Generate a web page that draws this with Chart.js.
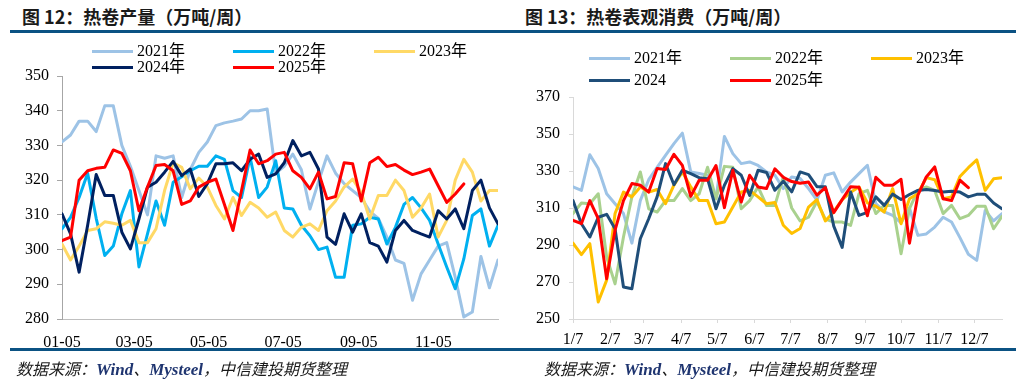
<!DOCTYPE html>
<html><head><meta charset="utf-8">
<script src="https://cdn.jsdelivr.net/npm/chart.js@4.4.0/dist/chart.umd.min.js"></script>
<style>
html,body{margin:0;padding:0;background:#fff;}
#wrap{position:relative;width:1024px;height:380px;overflow:hidden;background:#fff;}
.title{position:absolute;top:3px;font:bold 18px "Noto Sans CJK SC",sans-serif;color:#1a1a1a;white-space:nowrap;line-height:26px;}
.bar{position:absolute;background:#0b5283;}
.foot{position:absolute;top:357px;font:italic 16px "Noto Sans CJK SC",sans-serif;color:#1a1a1a;white-space:nowrap;line-height:22px;}
.foot b{font-family:"Liberation Serif",serif;font-size:17px;font-weight:bold;color:#1f3570;}
canvas{position:absolute;top:0;}
.lg{position:absolute;height:18px;font:16px "Liberation Serif","Noto Sans CJK SC",serif;color:#000;white-space:nowrap;line-height:18px;}
.lg i{position:absolute;left:0;top:8px;width:41px;height:3px;}
.lg span{position:absolute;left:45px;top:0;}
</style>
</head><body>
<div id="wrap">
  <div class="title" style="left:22px;">图 12：热卷产量（万吨/周）</div>
  <div class="title" style="left:525px;">图 13：热卷表观消费（万吨/周）</div>
  <div class="bar" style="left:10px;top:30px;width:1006px;height:3px;"></div>
  <div class="bar" style="left:10px;top:348px;width:1006px;height:3px;"></div>
  <canvas id="c1" width="512" height="380" style="left:0;width:512px;height:380px;"></canvas>
  <canvas id="c2" width="512" height="380" style="left:512px;width:512px;height:380px;"></canvas>
  <div class="foot" style="left:16px;">数据来源：<b>Wind</b>、<b>Mysteel</b>，中信建投期货整理</div>
  <div class="foot" style="left:544px;">数据来源：<b>Wind</b>、<b>Mysteel</b>，中信建投期货整理</div>
</div>
<script>
// ---------- Figure 12: HRC weekly output (10k t/week) ----------
const prodLabels = ['2021年','2022年','2023年','2024年','2025年'];
const prodColors = ['#9DC3E6','#00B0F0','#FFD966','#002060','#FF0000'];
const prodTickLabels = ['01-05','03-05','05-05','07-05','09-05','11-05'];
const prodStart = '01-05';
const prod2021 = [331,333,337,337,334,341.4,341.4,330,324,317,310,327,326.3,327,315,323,328,331,335.7,336.5,337,337.6,340,340,340.5,322,324,327.5,323,311.7,319.5,327,322,319,317,315,311,309,303.6,297,296,285.4,293,297,301,302,292,280.6,282,298,289,297];
const prod2022 = [306,309.3,315,322,309,298.3,301,310.3,317,295,304.5,314,307,319.4,321,322.7,324,324,327,326,317,315,326.6,315,318,325.6,312,311.7,307,304,300,300.7,292,292,307,307.4,309.3,308.8,301.6,306.4,313,315,312,308.4,301.6,295,288.7,297.3,309.8,311.7,301,307];
const prod2023 = [301.6,297,301,305.5,306,308,307.6,307,308.4,302,302,306,317,325,323.7,317.5,320.6,318,312.7,308.8,315,309.8,313.6,312,309.3,310.8,305.5,303.6,306.4,307.4,305.5,311.2,314,318,320.3,316.5,308.8,315.6,315.6,320,317,309.3,312,316,303.6,308.4,320,326,322.3,314,317,317];
const prod2024 = [310.3,304.5,293.5,307,321.6,315.6,315.6,305,300.2,308.8,318,319.4,322.3,325.4,321.3,323.2,315.3,319,324.7,324.7,325,322.7,326,327.5,320.8,321.8,325,331.4,327,328,323.2,303.6,301.5,310.3,305,310.3,302,301,296.4,305.5,308.4,305.5,304.5,303.6,311.2,308.8,311.7,306,317,320,312,307.4];
const prod2025 = [302.6,303.6,320,322.7,323.4,323.7,328.7,327.7,322.7,311.2,318,324.2,324.5,322.7,313,314,318,319.4,320.3,313,305.5,317,328.7,324.7,325.6,327.5,328,322.7,320.8,317.5,322.3,314.6,315.3,325,324.7,314,325,326.6,323.9,324.5,322.9,321.6,322.3,323.2,318.4,313.6,316,318.9];
const prodYTicks = {min:280, max:350, step:10};

// ---------- Figure 13: HRC apparent consumption (10k t/week) ----------
const consLabels = ['2021年','2022年','2023年','2024','2025年'];
const consColors = ['#9DC3E6','#A9D18E','#FFC000','#1F4E79','#FF0000'];
const consTickLabels = ['1/7','2/7','3/7','4/7','5/7','6/7','7/7','8/7','9/7','10/7','11/7','12/7'];
const consStart = '1/7';
const cons2021 = [321.4,319.5,338.8,331.3,317.7,312.3,307,291,314,325.3,332,338.5,344.8,350.5,329.5,328.6,327.7,315,348.7,339.4,334,334.9,333,329.5,327.7,320.5,326.8,325.9,320.5,314.2,327.7,329,318.7,324,328.6,333.1,312.4,307.9,306,302,310,295.2,296,299.7,305,302.4,294,285,281.7,308.7,303,307];
const cons2022 = [307,312.7,312.3,317.7,283.5,269,294.3,316,329.5,309.6,307.8,314,314,320.5,314,317.7,332,315,332.5,332,309.6,314,321.4,311.4,311.4,326.8,310,303,305,313.5,304,302.4,302.4,300.6,317.7,319.5,307,311.4,311.4,285.3,309.6,319.5,321.4,319.5,307,311.4,304.2,306,311,311,298.8,305.5];
const cons2023 = [291,284.8,290.7,259.2,271,307,318.6,316,321.4,318.6,320,312.3,322.3,329.5,321.4,314,314,301.5,302.4,310.5,318.6,319.5,316,312.3,313,300.7,296.2,298.9,310.5,314.5,303,308,314.5,318.5,321.4,312.8,311,307.8,320.5,301.5,315,317.7,326.4,325.3,315,316,327,331.8,336,319.5,325.8,326.4];
const cons2024 = [314,301.5,294.3,305,306.6,298.8,267.3,266.4,293.4,304.2,316,334,322.6,330.4,328.6,326.4,325.8,309.6,322.3,331.3,327.7,316.8,330.4,329.2,319.6,324.5,318.7,329.5,328,321.5,321.5,300.2,288.7,318.6,306,307.6,316,311.4,317.5,314.6,317.3,319.5,320,319.5,318.6,319.1,318.6,316,317.4,317.4,312.7,309.6];
const cons2025 = [303.3,301.5,314,304.2,271.8,298,314,323.2,322.3,318.6,331.3,330.8,339,333,316.3,325,325,333,310.2,330.4,313.2,327.7,321.4,320.5,331.2,326.6,324.3,323.4,324,316.9,321,307.5,314.5,321.5,321.2,305.8,326.6,322.3,322.3,325.5,291,317,326.8,332.2,315,314,325,321];
const consYTicks = {min:250, max:370, step:20};

// ---------- helpers ----------
const MONTH_START = [0,31,59,90,120,151,181,212,243,273,304,334];
function dayOfYear(str){
  const p = str.split(/[-\/]/).map(Number);
  return MONTH_START[p[0]-1] + p[1];
}
function toPoints(values, startDay){
  return values.map((v,i)=>({x:startDay + 7*i, y:v}));
}

function makeChart(canvasId, cfg){
  const startDay = dayOfYear(cfg.start);
  const nWeeks = cfg.series[0].length;
  const endDay = startDay + 7*(nWeeks-1);
  const tickDays = cfg.tickLabels.map(dayOfYear);
  const font = {family:'"Liberation Serif", serif', size:16};
  const datasets = cfg.series.map((vals,k)=>({
    label: cfg.labels[k],
    data: toPoints(vals, startDay),
    borderColor: cfg.colors[k],
    backgroundColor: cfg.colors[k],
    borderWidth: 3,
    pointRadius: 0,
    fill: false,
    tension: 0,
    borderJoinStyle: 'round',
    borderCapStyle: 'round',
    order: cfg.series.length - k
  }));
  return new Chart(document.getElementById(canvasId), {
    type: 'line',
    data: {datasets},
    options: {
      responsive: false,
      animation: false,
      events: [],
      layout: {padding: cfg.padding},
      plugins: {legend:{display:false}, tooltip:{enabled:false}, title:{display:false}},
      scales: {
        x: {
          type: 'linear',
          min: startDay, max: endDay,
          grid: {display: cfg.xTickMarks, drawOnChartArea:false, drawTicks: cfg.xTickMarks, tickLength: 4, color: cfg.xAxisColor},
          border: {display:true, color: cfg.xAxisColor, width:1},
          afterBuildTicks: s => { s.ticks = tickDays.map(v=>({value:v})); },
          afterFit: s => { s.height = 30; },
          ticks: {
            autoSkip:false, maxRotation:0, minRotation:0,
            padding: cfg.xPad, color:'#000', font,
            callback: (v) => { const i = tickDays.indexOf(v); return i>=0 ? cfg.tickLabels[i] : ''; }
          }
        },
        y: {
          min: cfg.yTicks.min, max: cfg.yTicks.max,
          grid: {display:true, drawOnChartArea:false, drawTicks:true, tickLength: cfg.yTickLen, color: cfg.yAxisColor},
          border: {display:true, color: cfg.yAxisColor, width:1},
          afterFit: s => { s.width = cfg.yWidth; },
          ticks: {stepSize: cfg.yTicks.step, padding: cfg.yPad, color:'#000', font}
        }
      }
    }
  });
}

function buildLegend(chart, cols, rows){
  const wrap = document.getElementById('wrap');
  chart.data.datasets.forEach((ds,k)=>{
    const d = document.createElement('div');
    d.className = 'lg';
    d.style.left = cols[k%3] + 'px';
    d.style.top = (rows[Math.floor(k/3)] - 9) + 'px';
    const ln = document.createElement('i');
    ln.style.background = ds.borderColor;
    const tx = document.createElement('span');
    tx.textContent = ds.label;
    d.appendChild(ln); d.appendChild(tx);
    wrap.appendChild(d);
  });
}

const chart1 = makeChart('c1', {
  start: prodStart, tickLabels: prodTickLabels,
  series: [prod2021, prod2022, prod2023, prod2024, prod2025],
  labels: prodLabels, colors: prodColors, yTicks: prodYTicks,
  padding: {left:0, top:76, right:14, bottom:31},
  xTickMarks: false, xAxisColor:'#bfbfbf', xPad: 14,
  yAxisColor:'#a6a6a6', yTickLen:5, yPad:8, yWidth:62
});
const chart2 = makeChart('c2', {
  start: consStart, tickLabels: consTickLabels,
  series: [cons2021, cons2022, cons2023, cons2024, cons2025],
  labels: consLabels, colors: consColors, yTicks: consYTicks,
  padding: {left:0, top:97, right:22, bottom:31},
  xTickMarks: true, xAxisColor:'#d9d9d9', xPad: 7,
  yAxisColor:'#d9d9d9', yTickLen:4, yPad:9, yWidth:61
});
buildLegend(chart1, [92,233,374], [51,67]);
buildLegend(chart2, [589,730,871], [58,80]);
</script>
</body></html>
